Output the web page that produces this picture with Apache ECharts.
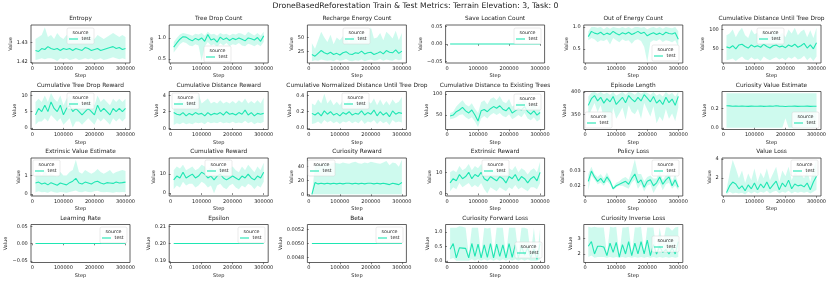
<!DOCTYPE html>
<html><head><meta charset="utf-8">
<script src="https://cdn.jsdelivr.net/npm/echarts@6/dist/echarts.min.js"></script>
<style>html,body{margin:0;padding:0;background:#fff}#c{width:831px;height:283px}</style>
</head><body><div id="c"></div>
<script>
const SUPTITLE = 'DroneBasedReforestation Train & Test Metrics: Terrain Elevation: 3, Task: 0';
const SERIES_NAME = 'test';
const LEGEND_TITLE = 'source';
const X_NAME = 'Step';
const Y_NAME = 'Value';
const X_TICKS = [0, 100000, 200000, 300000];
const STEPS = [10000,20000,30000,40000,50000,60000,70000,80000,90000,100000,110000,120000,130000,140000,150000,160000,170000,180000,190000,200000,210000,220000,230000,240000,250000,260000,270000,280000,290000,300000];

const entropyMean = [1.426,1.4255,1.427,1.4265,1.428,1.427,1.4265,1.427,1.426,1.427,1.4265,1.427,1.426,1.427,1.4265,1.426,1.4275,1.427,1.426,1.4265,1.427,1.426,1.4265,1.427,1.4275,1.428,1.427,1.4275,1.4265,1.427];
const entropyLo = [1.421,1.4215,1.422,1.4215,1.422,1.422,1.4215,1.4205,1.422,1.4215,1.422,1.421,1.4215,1.422,1.421,1.4215,1.422,1.4215,1.422,1.421,1.4215,1.422,1.421,1.4215,1.422,1.4225,1.422,1.4215,1.422,1.4215];
const entropyHi = [1.432,1.433,1.434,1.438,1.433,1.434,1.432,1.435,1.433,1.432,1.434,1.433,1.432,1.434,1.433,1.432,1.434,1.436,1.433,1.432,1.434,1.433,1.432,1.433,1.434,1.435,1.434,1.433,1.434,1.433];

const treeDropMean = [0.78,0.88,0.97,1.03,1.02,0.97,0.93,0.99,0.95,1.0,0.92,1.08,0.95,0.98,0.9,1.02,0.96,1.0,0.94,0.99,0.96,1.0,0.97,0.93,1.0,0.98,0.95,1.01,0.92,1.05];
const treeDropLo = [0.65,0.75,0.85,0.9,0.88,0.82,0.8,0.85,0.82,0.45,0.8,0.9,0.82,0.85,0.78,0.87,0.82,0.88,0.8,0.85,0.83,0.88,0.82,0.8,0.86,0.84,0.8,0.85,0.8,0.9];
const treeDropHi = [0.9,1.0,1.08,1.12,1.1,1.08,1.05,1.1,1.08,1.12,1.05,1.15,1.08,1.1,1.05,1.12,1.08,1.1,1.06,1.1,1.08,1.12,1.1,1.06,1.15,1.1,1.06,1.12,1.05,1.15];

const rechargeMean = [20,17,22,27,23,21,24,20,22,19,23,25,21,20,23,22,26,21,23,24,20,22,25,21,27,24,23,28,22,26];
const rechargeLo = [8,10,9,11,10,9,10,8,11,9,10,12,9,8,10,9,11,8,10,11,9,10,12,9,11,10,9,12,10,11];
const rechargeHi = [40,30,45,60,50,42,55,38,50,45,52,48,40,55,50,42,58,45,52,68,48,50,58,45,60,55,48,62,45,58];

const saveLocMean = [0,0,0,0,0,0,0,0,0,0,0,0,0,0,0,0,0,0,0,0,0,0,0,0,0,0,0,0,0,0];

const outEnergyMean = [0.78,0.9,0.86,0.84,0.88,0.82,0.86,0.83,0.9,0.85,0.82,0.87,0.84,0.88,0.83,0.86,0.9,0.85,0.88,0.8,0.84,0.87,0.83,0.86,0.82,0.88,0.85,0.84,0.87,0.72];
const outEnergyLo = [0.7,0.75,0.72,0.65,0.7,0.68,0.72,0.6,0.75,0.7,0.65,0.72,0.68,0.7,0.62,0.7,0.72,0.68,0.55,0.2,0.65,0.7,0.68,0.72,0.66,0.7,0.68,0.65,0.7,0.55];
const outEnergyHi = [0.9,1.0,1.0,0.98,1.0,0.95,1.0,0.96,1.0,0.98,0.97,1.0,0.97,1.0,0.96,1.0,1.0,0.98,1.0,0.95,0.98,1.0,0.97,1.0,0.96,1.0,0.98,0.97,1.0,0.9];

const cumDistMean = [55,52,58,50,60,62,56,52,60,55,58,54,62,56,52,58,60,55,57,53,60,56,62,54,58,64,52,60,50,66];
const cumDistLo = [20,22,25,18,25,30,22,20,28,22,25,18,30,24,20,25,28,22,26,20,28,24,30,22,25,32,20,28,18,30];
const cumDistHi = [85,90,100,80,95,105,85,78,100,88,92,80,102,90,82,95,98,85,92,80,100,90,105,85,95,100,80,98,78,105];

const treeRewardMean = [4,6,5,7,5,8,6,5,7,4,6,7,5,6,5,4,5,6,5,4,7,5,6,5,4,6,5,6,5,6];
const treeRewardLo = [1,2,2,3,2,4,3,2,3,1,2,3,0.1,2,2,1,2,3,2,1,3,2,3,2,1,3,2,3,2,3];
const treeRewardHi = [8,9,8,10,8,10.7,9,8,10,7,9,10,8,9,8,7,8,9,8,7,10,8,9,8,7,9,8,9,8,9];

const distRewardMean = [1.9,1.7,1.6,1.9,1.5,1.8,1.6,1.9,1.7,1.8,1.5,1.9,1.6,1.8,1.7,1.9,1.6,2.0,1.7,1.8,1.6,1.9,1.7,2.2,1.6,1.9,1.5,1.8,1.7,1.8];
const distRewardLo = [0.4,0.6,0.5,0.7,0.5,0.6,0.5,0.7,0.6,0.7,0.5,0.8,0.6,0.7,0.6,0.8,0.6,0.7,0.6,0.8,0.6,0.7,0.6,0.9,0.6,0.8,0.5,0.7,0.6,0.8];
const distRewardHi = [3.2,3.0,3.5,3.2,3.0,3.4,3.0,3.5,4.2,3.0,3.3,3.6,3.0,3.2,3.0,3.4,3.0,3.2,3.0,3.3,3.0,3.4,3.1,3.6,3.0,3.3,3.0,3.4,3.0,3.7];

const normDistMean = [0.18,0.16,0.19,0.15,0.21,0.17,0.2,0.16,0.18,0.15,0.19,0.17,0.2,0.16,0.18,0.17,0.21,0.16,0.19,0.17,0.22,0.15,0.2,0.16,0.19,0.14,0.21,0.17,0.19,0.18];
const normDistLo = [0.05,0.06,0.08,0.05,0.1,0.07,0.09,0.06,0.08,0.05,0.08,0.07,0.09,0.06,0.08,0.06,0.1,0.05,0.08,0.07,0.1,0.05,0.09,0.06,0.08,0.04,0.1,0.07,0.08,0.07];
const normDistHi = [0.3,0.28,0.35,0.3,0.42,0.3,0.35,0.28,0.32,0.28,0.34,0.3,0.35,0.28,0.32,0.3,0.36,0.28,0.33,0.3,0.36,0.28,0.35,0.28,0.33,0.28,0.35,0.3,0.32,0.38];

const existingMean = [48,50,58,62,68,60,55,62,50,36,60,63,58,65,70,66,72,64,60,68,55,60,65,62,70,58,52,60,50,56];
const existingLo = [40,42,45,50,52,45,40,45,35,22,42,48,42,50,55,50,55,48,45,52,40,45,50,45,55,42,38,45,35,40];
const existingHi = [55,58,70,78,85,75,70,78,65,55,80,85,75,88,92,85,95,82,78,88,70,75,82,80,90,75,68,78,65,75];

const episodeMean = [370,385,392,380,388,375,385,378,390,372,380,388,376,392,384,378,388,380,394,386,378,390,375,382,372,388,376,384,370,390];
const episodeLo = [345,360,375,355,370,340,345,318,365,340,352,365,338,370,355,350,362,340,375,360,345,368,330,345,335,362,340,352,335,365];
const episodeHi = [390,398,400,396,400,395,398,394,400,392,396,400,394,400,398,394,400,396,400,398,394,400,392,396,390,400,394,398,390,400];

const curValMean = [0.23,0.228,0.225,0.227,0.224,0.226,0.225,0.223,0.226,0.224,0.225,0.227,0.223,0.225,0.226,0.224,0.23,0.226,0.224,0.222,0.225,0.224,0.226,0.223,0.225,0.224,0.226,0.223,0.225,0.224];
const curValLo = [0,0,0,0,0,0,0,0,0,0,0,0,0,0,0,0,0,0,0,0.1,0,0,0,0,0,0,0,0,0,0];
const curValHi = [0.36,0.36,0.36,0.36,0.36,0.36,0.36,0.36,0.36,0.36,0.36,0.36,0.36,0.36,0.36,0.36,0.36,0.36,0.36,0.36,0.36,0.36,0.36,0.36,0.36,0.36,0.36,0.36,0.36,0.36];

const extValMean = [0.6,0.65,0.55,0.6,0.5,0.62,0.55,0.48,0.6,0.55,0.5,0.62,0.7,0.85,0.6,0.55,0.65,0.6,0.55,0.65,0.7,0.6,0.55,0.62,0.6,0.58,0.65,0.6,0.62,0.65];
const extValLo = [0.1,0.15,0.1,0.12,0.08,0.15,0.1,0.08,0.12,0.1,0.08,0.12,0.15,0.2,0.12,0.1,0.15,0.12,0.1,0.15,0.18,0.12,0.1,0.12,0.1,0.08,0.12,0.1,0.12,0.1];
const extValHi = [1.1,1.2,1.0,1.3,1.0,1.1,1.0,0.95,1.2,1.0,1.0,1.2,1.3,1.85,1.2,1.1,1.3,1.2,1.1,1.2,1.35,1.2,1.1,1.2,1.3,1.1,1.2,1.25,1.3,1.25];

const cumRewardMean = [7,9,8,11,8,9,10,8,9,11,10,8,9,7,9,10,8,7,8,9,8,7,9,8,10,8,7,9,8,11];
const cumRewardLo = [2,4,3,6,4,5,5,3,4,6,5,3,4,0,4,5,3,2,4,5,3,2,4,3,5,4,2,4,3,6];
const cumRewardHi = [12,14,13,15,12,13,14,12,13,15,14,12,14,12,13,14,12,11,13,14,12,11,14,12,15,13,11,14,12,16];

const curRewardMean = [0,17,15,16,15,16,15,16,15,16,15,16,16,15,16,15,16,15,16,16,15,16,15,16,15,14,16,15,14,17];
const curRewardLo = [0,0,0,0,0,0,0,0,0,0,0,0,0,0,0,0,0,0,0,0,0,0,0,0,0,0,0,0,0,0];
const curRewardHi = [0,42,45,44,46,45,44,46,45,44,46,45,44,46,47,45,44,46,45,47,46,45,44,46,48,42,46,45,40,50];

const extRewardMean = [5,7,6,9,7,8,10,7,9,8,10,7,6,8,7,6,8,7,5,8,7,9,6,8,7,5,7,8,6,10];
const extRewardLo = [1,3,2,5,3,4,5,3,4,3,5,2,0,3,2,1,3,2,1,3,2,4,2,3,2,1,3,3,2,5];
const extRewardHi = [10,11,10,13,11,12,14,11,13,12,14,11,10,12,11,10,12,11,9,12,11,13,10,12,11,9,11,12,10,15];

const policyMean = [0.023,0.03,0.026,0.023,0.025,0.022,0.026,0.023,0.018,0.02,0.021,0.022,0.023,0.021,0.025,0.028,0.022,0.024,0.019,0.023,0.024,0.02,0.022,0.026,0.021,0.024,0.026,0.02,0.024,0.019];
const policyLo = [0.017,0.027,0.024,0.021,0.022,0.02,0.023,0.021,0.017,0.019,0.02,0.02,0.019,0.018,0.022,0.024,0.018,0.021,0.016,0.02,0.021,0.015,0.019,0.022,0.017,0.021,0.022,0.018,0.02,0.017];
const policyHi = [0.028,0.033,0.028,0.026,0.028,0.025,0.029,0.025,0.019,0.022,0.023,0.025,0.026,0.024,0.03,0.038,0.028,0.028,0.023,0.026,0.027,0.025,0.025,0.03,0.024,0.027,0.03,0.023,0.028,0.021];

const valueLossMean = [0.5,1.2,1.6,1.4,0.9,1.2,0.7,1.3,0.9,1.5,0.8,1.4,1.0,1.6,0.9,1.3,1.7,0.8,1.5,1.1,1.8,0.9,1.4,1.2,1.3,1.1,1.5,0.8,1.6,2.2];
const valueLossLo = [0.3,0.6,0.4,0.5,0.4,0.5,0.3,0.6,0.4,0.6,0.4,0.6,0.5,0.7,0.4,0.6,0.7,0.4,0.6,0.5,0.7,0.4,0.6,0.5,0.6,0.5,0.6,0.4,0.6,0.8];
const valueLossHi = [0.8,2.5,3.9,3.0,2.0,2.8,1.5,2.5,1.8,3.0,1.6,2.6,2.0,3.0,1.8,2.5,3.2,1.6,2.8,2.2,3.2,1.8,2.6,2.3,2.4,2.0,2.8,1.6,3.0,3.95];

const lrMean = [0,0,0,0,0,0,0,0,0,0,0,0,0,0,0,0,0,0,0,0,0,0,0,0,0,0,0,0,0,0];
const epsMean = [0.2,0.2,0.2,0.2,0.2,0.2,0.2,0.2,0.2,0.2,0.2,0.2,0.2,0.2,0.2,0.2,0.2,0.2,0.2,0.2,0.2,0.2,0.2,0.2,0.2,0.2,0.2,0.2,0.2,0.2];
const betaMean = [0.005,0.005,0.005,0.005,0.005,0.005,0.005,0.005,0.005,0.005,0.005,0.005,0.005,0.005,0.005,0.005,0.005,0.005,0.005,0.005,0.005,0.005,0.005,0.005,0.005,0.005,0.005,0.005,0.005,0.005];

const fwdLossMean = [0.4,0.6,0.1,0.45,0.44,0.43,0.1,0.6,0.15,0.58,0.1,0.55,0.12,0.6,0.1,0.58,0.15,0.55,0.1,0.6,0.12,0.55,0.1,0.5,0.2,0.45,0.1,0.4,0.05,0.6];
const fwdLossLo = [0.05,0.1,0,0,0,0,0,0.05,0,0.05,0,0.05,0,0.05,0,0.05,0,0.05,0,0.05,0,0.05,0,0.05,0,0.05,0,0,0,0.05];
const fwdLossHi = [1.15,1.15,1.15,1.2,1.18,1.15,0.2,1.15,1.15,1.15,0.2,1.15,1.12,1.15,0.2,1.15,1.15,1.15,0.2,1.15,1.15,1.15,0.25,1.15,1.15,1.1,0.2,1.15,0.1,1.12];

const invLossMean = [2.5,2.8,2.0,2.5,2.5,2.45,1.9,2.7,2.1,2.75,1.8,2.6,2.0,2.8,1.9,2.7,2.0,2.8,2.0,2.9,1.9,2.6,2.0,2.5,2.1,2.3,2.0,2.4,2.0,2.8];
const invLossLo = [1.8,1.9,1.75,1.8,1.8,1.8,1.75,1.8,1.75,1.8,1.75,1.8,1.75,1.8,1.75,1.8,1.75,1.8,1.75,1.8,1.75,1.8,1.75,1.8,1.75,1.8,1.75,1.8,1.75,1.8];
const invLossHi = [3.75,3.7,3.75,3.7,3.7,3.7,2.0,3.75,3.7,3.75,1.9,3.7,3.7,3.75,2.0,3.7,3.7,3.75,2.1,3.7,3.7,3.7,2.1,3.7,2.6,3.7,3.7,3.5,3.7,3.75];

const TITLES = ['Entropy','Tree Drop Count','Recharge Energy Count','Save Location Count','Out of Energy Count','Cumulative Distance Until Tree Drop',
 'Cumulative Tree Drop Reward','Cumulative Distance Reward','Cumulative Normalized Distance Until Tree Drop','Cumulative Distance to Existing Trees','Episode Length','Curiosity Value Estimate',
 'Extrinsic Value Estimate','Cumulative Reward','Curiosity Reward','Extrinsic Reward','Policy Loss','Value Loss',
 'Learning Rate','Epsilon','Beta','Curiosity Forward Loss','Curiosity Inverse Loss'];

const Y_TICKS = [
 ['1.42','1.43'], ['0.5','1.0'], ['25','50'], ['-0.05','0.00','0.05'], ['0.5','1.0'], ['50','100'],
 ['0','5','10'], ['0','2','4'], ['0.0','0.2','0.4'], ['50','100'], ['350','400'], ['0.0','0.2'],
 ['0','1'], ['0','10'], ['0','20','40'], ['0','10'], ['0.02','0.03'], ['2','4'],
 ['-0.05','0.00','0.05'], ['0.19','0.20','0.21'], ['0.0048','0.0050','0.0052'], ['0.0','0.5','1.0'], ['2','3']
];

const MEANS = [entropyMean,treeDropMean,rechargeMean,saveLocMean,outEnergyMean,cumDistMean,treeRewardMean,distRewardMean,normDistMean,existingMean,episodeMean,curValMean,extValMean,cumRewardMean,curRewardMean,extRewardMean,policyMean,valueLossMean,lrMean,epsMean,betaMean,fwdLossMean,invLossMean];
const LOS = [entropyLo,treeDropLo,rechargeLo,null,outEnergyLo,cumDistLo,treeRewardLo,distRewardLo,normDistLo,existingLo,episodeLo,curValLo,extValLo,cumRewardLo,curRewardLo,extRewardLo,policyLo,valueLossLo,null,null,null,fwdLossLo,invLossLo];
const HIS = [entropyHi,treeDropHi,rechargeHi,null,outEnergyHi,cumDistHi,treeRewardHi,distRewardHi,normDistHi,existingHi,episodeHi,curValHi,extValHi,cumRewardHi,curRewardHi,extRewardHi,policyHi,valueLossHi,null,null,null,fwdLossHi,invLossHi];

// axis ranges (view limits)
const Y_RANGE = [
 [1.4195,1.4392],[0.4,1.31],[5,72],[-0.055,0.055],[0.18,1.045],[13,112],
 [-0.5,11.2],[-0.15,4.45],[-0.016,0.446],[16,105.6],[316,401],[-0.018,0.378],
 [-0.1,1.95],[-1.5,18.5],[-2.5,52.5],[-1.2,16.8],[0.013,0.0389],[0.15,4.1],
 [-0.055,0.055],[0.189,0.211],[0.004725,0.005275],[-0.06,1.26],[1.45,3.9]
];
const X_RANGE = [-4500, 314500];

// layout
const L0 = 31, DX = 138.2, W = 99, H = 38;
const TOPS = [25, 91.5, 158, 224.5];
const LEGEND_POS = [[67,28],[204,46],[343,28],[514,28],[652,45],[757,28],
 [67,93],[172,93],[342,93],[514,94],[585,112],[792,112],
 [33,160],[205,160],[308,160],[482,160],[652,160],[791,160],
 [100,227],[238,227],[376,227],[515,242],[652,236]];
const LINE = '#1fe6b3';
const BAND = 'rgba(31,230,179,0.22)';
const FONT = "'DejaVu Sans', sans-serif";
const TXT = '#222';
const TICK_FS = 5, TITLE_FS = 5.85, SUP_FS = 7.7, LEG_FS = 4.8;

const fmt = s => s.replace('-', '\u2212');
const ctx = document.createElement('canvas').getContext('2d');
ctx.font = TICK_FS + "px 'DejaVu Sans'";

const grids = [], xAxes = [], yAxes = [], series = [], titles = [], graphics = [];
titles.push({text: SUPTITLE, left: 'center', top: 2, padding: 0, textStyle: {fontSize: SUP_FS, fontWeight: 'normal', fontFamily: FONT, color: TXT}});

TITLES.forEach((t, i) => {
  const r = Math.floor(i / 6), c = i % 6;
  const left = L0 + c * DX, top = TOPS[r];
  grids.push({left: left, top: top, width: W, height: H, show: true, borderColor: '#3a3a3a', borderWidth: 0.8, backgroundColor: 'transparent'});
  titles.push({text: t, left: left + W / 2, top: top - 9.5, textAlign: 'center', padding: 0,
    textStyle: {fontSize: TITLE_FS, fontWeight: 'normal', fontFamily: FONT, color: TXT}});
  xAxes.push({type: 'value', gridIndex: i, min: X_RANGE[0], max: X_RANGE[1],
    splitLine: {show: false}, axisLine: {show: false},
    axisTick: {show: true, length: 1.8, customValues: X_TICKS, lineStyle: {color: '#333', width: 0.6}},
    axisLabel: {customValues: X_TICKS, fontSize: TICK_FS, margin: 3.2, color: TXT, fontFamily: FONT, formatter: v => String(Math.round(v))},
    name: X_NAME, nameLocation: 'middle', nameGap: 10.5, nameTextStyle: {fontSize: TICK_FS, color: TXT, fontFamily: FONT}});
  const ticks = Y_TICKS[i];
  const vals = ticks.map(parseFloat);
  const maxW = Math.max.apply(null, ticks.map(s => ctx.measureText(fmt(s)).width));
  yAxes.push({type: 'value', gridIndex: i, min: Y_RANGE[i][0], max: Y_RANGE[i][1],
    splitLine: {show: false}, axisLine: {show: false},
    axisTick: {show: true, length: 1.8, customValues: vals, lineStyle: {color: '#333', width: 0.6}},
    axisLabel: {customValues: vals, fontSize: TICK_FS, margin: 3.2, color: TXT, fontFamily: FONT,
      formatter: function (v) {
        let best = 0, bd = Infinity;
        vals.forEach((tv, k) => { const d = Math.abs(tv - v); if (d < bd) { bd = d; best = k; } });
        return fmt(ticks[best]);
      }},
    name: Y_NAME, nameLocation: 'middle', nameGap: maxW + 5.2, nameTextStyle: {fontSize: TICK_FS, color: TXT, fontFamily: FONT}});

  const mean = MEANS[i], lo = LOS[i], hi = HIS[i];
  if (lo && hi) {
    series.push({type: 'custom', xAxisIndex: i, yAxisIndex: i, silent: true, clip: true, z: 1,
      data: [[STEPS[0], mean[0]]],
      renderItem: function (params, api) {
        const pts = [];
        for (let k = 0; k < STEPS.length; k++) pts.push(api.coord([STEPS[k], hi[k]]));
        for (let k = STEPS.length - 1; k >= 0; k--) pts.push(api.coord([STEPS[k], lo[k]]));
        return {type: 'polygon', shape: {points: pts}, style: {fill: BAND, stroke: null}};
      }});
  }
  series.push({type: 'line', name: SERIES_NAME, xAxisIndex: i, yAxisIndex: i, symbol: 'none', silent: true,
    lineStyle: {color: LINE, width: 1.1}, data: STEPS.map((s, k) => [s, mean[k]]), z: 2});

  const [lx, ly] = LEGEND_POS[i];
  graphics.push({type: 'rect', shape: {x: lx, y: ly, width: 27, height: 16, r: 1.5}, style: {fill: 'rgba(255,255,255,0.8)', stroke: '#d4d4d4', lineWidth: 0.5}, z: 100});
  graphics.push({type: 'text', x: lx + 13.5, y: ly + 2, style: {text: LEGEND_TITLE, font: LEG_FS + "px 'DejaVu Sans'", fill: TXT, align: 'center', verticalAlign: 'top'}, z: 101});
  graphics.push({type: 'line', shape: {x1: lx + 2, y1: ly + 11, x2: lx + 11, y2: ly + 11}, style: {stroke: LINE, lineWidth: 1.1}, z: 101});
  graphics.push({type: 'text', x: lx + 14.5, y: ly + 11, style: {text: SERIES_NAME, font: LEG_FS + "px 'DejaVu Sans'", fill: TXT, align: 'left', verticalAlign: 'middle'}, z: 101});
});

const chart = echarts.init(document.getElementById('c'), null, {renderer: 'canvas'});
chart.setOption({animation: false, backgroundColor: '#fff', title: titles, grid: grids, xAxis: xAxes, yAxis: yAxes, series: series, graphic: graphics});
</script></body></html>
